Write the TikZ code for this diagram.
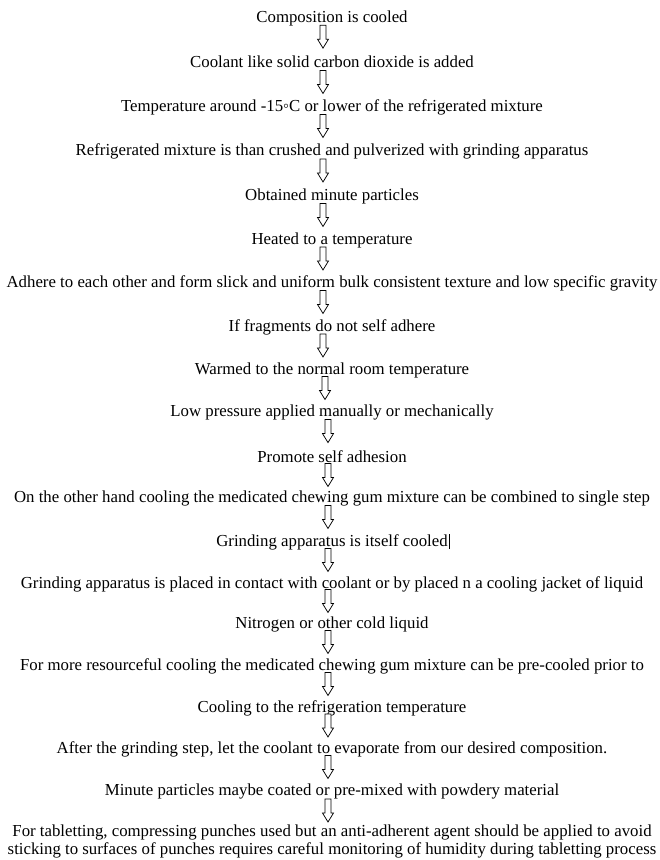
\documentclass[tikz,border=0pt]{standalone}
\usepackage{fontspec}
\setmainfont{Liberation Serif}
\usetikzlibrary{calc}
\begin{document}
\begin{tikzpicture}[x=1pt,y=1pt,
  txt/.style={anchor=base, inner sep=0pt, font=\fontsize{16.8}{18}\selectfont, align=center},
  blockarr/.pic={\draw[line width=0.75pt, fill=white, line join=miter]
     (-3,11.5) -- (3,11.5) -- (3,-2.5) -- (5.5,-2.5) -- (0,-11.5) -- (-5.5,-2.5) -- (-3,-2.5) -- cycle;}]
\fill[white] (0,0) rectangle (660,-860);
\useasboundingbox (0,0) rectangle (660,-860);
\node[txt] (t1) at (332,-22) {Composition is cooled};
\node[txt] (t2) at (332,-67) {Coolant like solid carbon dioxide is added};
\node[txt] (t3) at (332,-111) {Temperature around -15◦C or lower of the refrigerated mixture};
\node[txt] (t4) at (332,-155) {Refrigerated mixture is than crushed and pulverized with grinding apparatus};
\node[txt] (t5) at (332,-200) {Obtained minute particles};
\node[txt] (t6) at (332,-244) {Heated to a temperature};
\node[txt] (t7) at (332,-287) {Adhere to each other and form slick and uniform bulk consistent texture and low specific gravity};
\node[txt] (t8) at (332,-331) {If fragments do not self adhere};
\node[txt] (t9) at (332,-374) {Warmed to the normal room temperature};
\node[txt] (t10) at (332,-416) {Low pressure applied manually or mechanically};
\node[txt] (t11) at (332,-462) {Promote self adhesion};
\node[txt] (t12) at (332,-502) {On the other hand cooling the medicated chewing gum mixture can be combined to single step};
\node[txt] (t13) at (332,-546) {Grinding apparatus is itself cooled};
\node[txt] (t14) at (332,-588) {Grinding apparatus is placed in contact with coolant or by placed n a cooling jacket of liquid};
\node[txt] (t15) at (332,-628) {Nitrogen or other cold liquid};
\node[txt] (t16) at (332,-670) {For more resourceful cooling the medicated chewing gum mixture can be pre-cooled prior to};
\node[txt] (t17) at (332,-712) {Cooling to the refrigeration temperature};
\node[txt] (t18) at (332,-753) {After the grinding step, let the coolant to evaporate from our desired composition.};
\node[txt] (t19) at (332,-795) {Minute particles maybe coated or pre-mixed with powdery material};
\node[txt] (t20) at (332,-854) {For tabletting, compressing punches used but an anti-adherent agent should be applied to avoid\\sticking to surfaces of punches requires careful monitoring of humidity during tabletting process};
\coordinate (t20a) at ($(t20.base)+(0,18)$);
% cursor mark
\draw[line width=0.8pt] ($(t13.base east)+(1.5,-3)$) -- ($(t13.base east)+(1.5,12)$);
% block arrows
\foreach \a/\b/\dx in {t1/t2/-9,t2/t3/-9,t3/t4/-9,t4/t5/-9,t5/t6/-9,t6/t7/-9,t7/t8/-9,t8/t9/-9,t9/t10/-7,
  t10/t11/-4,t11/t12/-4,t12/t13/-4,t13/t14/-4,t14/t15/-4,t15/t16/-4,t16/t17/-4,t17/t18/-4,t18/t19/-4,t19/t20a/-4}
  \pic at ($(\a.base)!0.5!(\b)+(\dx,5)$) {blockarr};
\end{tikzpicture}
\end{document}
